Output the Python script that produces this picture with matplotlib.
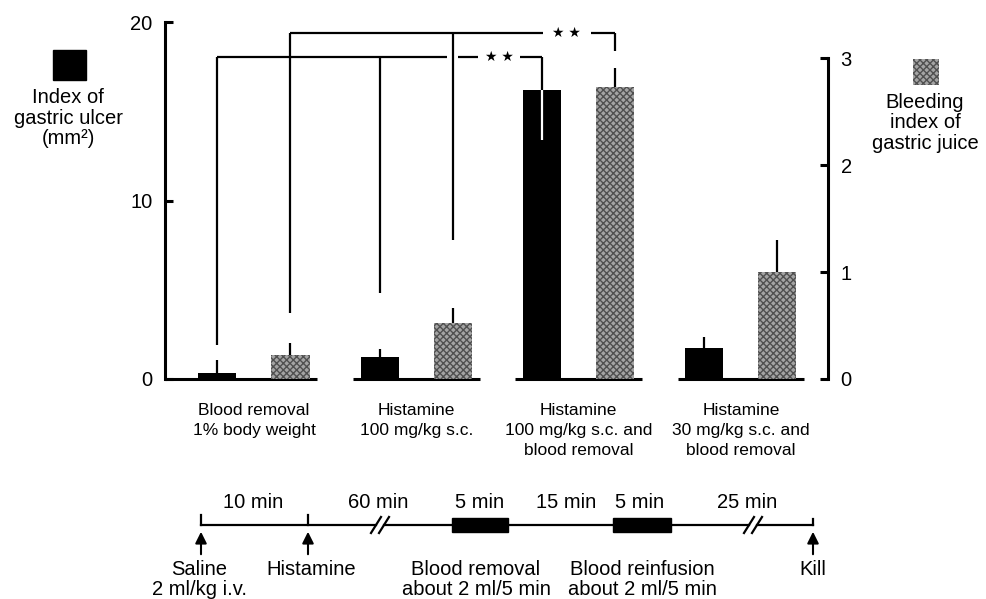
import numpy as np
import matplotlib
matplotlib.use("Agg")
import matplotlib.pyplot as plt
from matplotlib.patches import Rectangle

plt.rcParams['font.family'] = ['Liberation Sans', 'DejaVu Sans']

# datos
grupos = ["Blood removal\n1% body weight",
          "Histamine\n100 mg/kg s.c.",
          "Histamine\n100 mg/kg s.c. and\nblood removal",
          "Histamine\n30 mg/kg s.c. and\nblood removal"]
ulcera = [0.35, 1.25, 16.2, 1.75]          # eje izquierdo (mm2)
ulcera_err = [0.7, 0.45, 2.8, 0.6]
ulcera_err_dentro = [False, False, True, False]  # barra de error blanca hacia abajo
sangrado = [0.22, 0.52, 2.73, 1.0]         # eje derecho
sangrado_err = [0.12, 0.14, 0.18, 0.3]

# corchetes de significancia (unidades del eje izquierdo)
corchete_bajo_y = 18.04
corchete_bajo_fin = [1.9, 4.8, 16.2]       # donde terminan las lineas verticales (barras negras)
corchete_alto_y = 19.38
corchete_alto_fin = [3.7, 7.8, 18.4]       # barras grises
signo = "\u2605 \u2605"

# linea de tiempo
tiempos_arriba = ["10 min", "60 min", "5 min", "15 min", "5 min", "25 min"]
eventos_abajo = ["Saline\n2 ml/kg i.v.", "Histamine",
                 "Blood removal\nabout 2 ml/5 min",
                 "Blood reinfusion\nabout 2 ml/5 min", "Kill"]

W, H = 986, 599
fig = plt.figure(figsize=(W / 100, H / 100), dpi=100)

ax = fig.add_axes([165 / W, (H - 379) / H, (828 - 165) / W, 357 / H])
ax2 = ax.twinx()

x = np.arange(len(grupos))
off = 0.225
ancho = 0.235
ax.set_xlim(-0.548, 3.537)
ax.set_ylim(0, 20)
ax2.set_ylim(0, 3.34)

ax.bar(x - off, ulcera, ancho, color='black', zorder=2)
ax2.bar(x + off, sangrado, ancho, color='#a4a4a4', hatch='xxxxx',
        edgecolor='#505050', linewidth=0, zorder=2)

for i in range(len(grupos)):
    if ulcera_err_dentro[i]:
        ax.vlines(x[i] - off, ulcera[i] - ulcera_err[i], ulcera[i], color='white', lw=1.6, zorder=3)
    else:
        ax.vlines(x[i] - off, ulcera[i], ulcera[i] + ulcera_err[i], color='black', lw=1.6, zorder=3)
    ax2.vlines(x[i] + off, sangrado[i], sangrado[i] + sangrado_err[i], color='black', lw=1.6, zorder=3)

# linea base por grupo
for i in range(len(grupos)):
    x0 = ax.get_xlim()[0] if i == 0 else x[i] - 0.39
    ax.hlines(0, x0, x[i] + 0.39, color='black', lw=2.2, zorder=4, clip_on=False)

# corchetes
lw_c = 1.6
xb = x[:3] - off
xg = x[:3] + off
gap_g1 = 0.035
ax.hlines(corchete_bajo_y, xb[0], xg[1] - gap_g1, color='k', lw=lw_c)
ax.hlines(corchete_bajo_y, xg[1] + gap_g1, 1.383, color='k', lw=lw_c)
ax.hlines(corchete_bajo_y, 1.642, xb[2], color='k', lw=lw_c)
ax.text(1.512, corchete_bajo_y, signo, ha='center', va='center', fontsize=10)
for xi, fin in zip(xb, corchete_bajo_fin):
    ax.vlines(xi, fin, corchete_bajo_y, color='k', lw=lw_c)

ax.hlines(corchete_alto_y, xg[0], 1.778, color='k', lw=lw_c)
ax.hlines(corchete_alto_y, 2.074, xg[2], color='k', lw=lw_c)
ax.text(1.926, corchete_alto_y, signo, ha='center', va='center', fontsize=10)
for xi, fin in zip(xg, corchete_alto_fin):
    ax.vlines(xi, fin, corchete_alto_y, color='k', lw=lw_c)

# ejes
for a in (ax, ax2):
    a.spines['top'].set_visible(False)
    a.spines['bottom'].set_visible(False)
ax.spines['right'].set_visible(False)
ax2.spines['left'].set_visible(False)
ax.spines['left'].set_bounds(0, 20)
ax.spines['left'].set_linewidth(2.2)
ax2.spines['right'].set_bounds(0, 3)
ax2.spines['right'].set_linewidth(2.2)
ax.set_yticks([0, 10, 20])
ax2.set_yticks([0, 1, 2, 3])
ax.tick_params(axis='y', direction='in', length=6, width=2.2, pad=9, labelsize=14.5)
ax2.tick_params(axis='y', direction='in', length=6, width=2.2, pad=9, labelsize=14.5)
ax.set_xticks(x)
ax.set_xticklabels(grupos, fontsize=12.5, linespacing=1.45)
ax.tick_params(axis='x', length=0, pad=17)

# capa de dibujo en pixeles para leyendas y linea de tiempo
ov = fig.add_axes([0, 0, 1, 1])
ov.set_xlim(0, W)
ov.set_ylim(H, 0)
ov.axis('off')
ov.patch.set_alpha(0)

ov.add_patch(Rectangle((53, 50), 33, 30, color='black'))
ov.text(68, 118, "Index of\ngastric ulcer\n(mm\u00b2)", ha='center', va='center',
        fontsize=14.5, linespacing=1.1)
ov.add_patch(Rectangle((913, 59), 26, 26, facecolor='#a4a4a4', hatch='xxxxx',
                       edgecolor='#505050', linewidth=0))
ov.text(925, 123, "Bleeding\nindex of\ngastric juice", ha='center', va='center',
        fontsize=14.5, linespacing=1.1)

# linea de tiempo
y0 = 525
lw_t = 1.6
ov.plot([201, 376], [y0, y0], color='k', lw=lw_t)
ov.plot([384, 749], [y0, y0], color='k', lw=lw_t)
ov.plot([757, 813], [y0, y0], color='k', lw=lw_t)
for xc in (380, 753):
    for d in (-4, 4):
        ov.plot([xc + d - 5, xc + d + 5], [y0 + 8, y0 - 8], color='k', lw=lw_t)
for xa in (201, 308):
    ov.plot([xa, xa], [y0 - 10, y0], color='k', lw=lw_t)
ov.plot([813, 813], [y0 - 6, y0], color='k', lw=lw_t)
ov.add_patch(Rectangle((452, y0 - 7), 56, 14, color='black'))
ov.add_patch(Rectangle((613, y0 - 7), 58, 14, color='black'))
for xa in (201, 308, 813):
    ov.annotate('', xy=(xa, y0 + 4), xytext=(xa, y0 + 32),
                arrowprops=dict(arrowstyle='-|>', color='k', lw=1.5, mutation_scale=17))

x_arriba = [253, 378, 480, 566, 640, 747]
for xt, t in zip(x_arriba, tiempos_arriba):
    ov.text(xt, 503, t, ha='center', va='center', fontsize=14.5)

x_abajo = [199, 311, 476, 642, 813]
for xt, t in zip(x_abajo, eventos_abajo):
    ov.text(xt, 560, t, ha='center', va='top', fontsize=14.5, linespacing=1.05)

fig.savefig("out.png", dpi=100)
